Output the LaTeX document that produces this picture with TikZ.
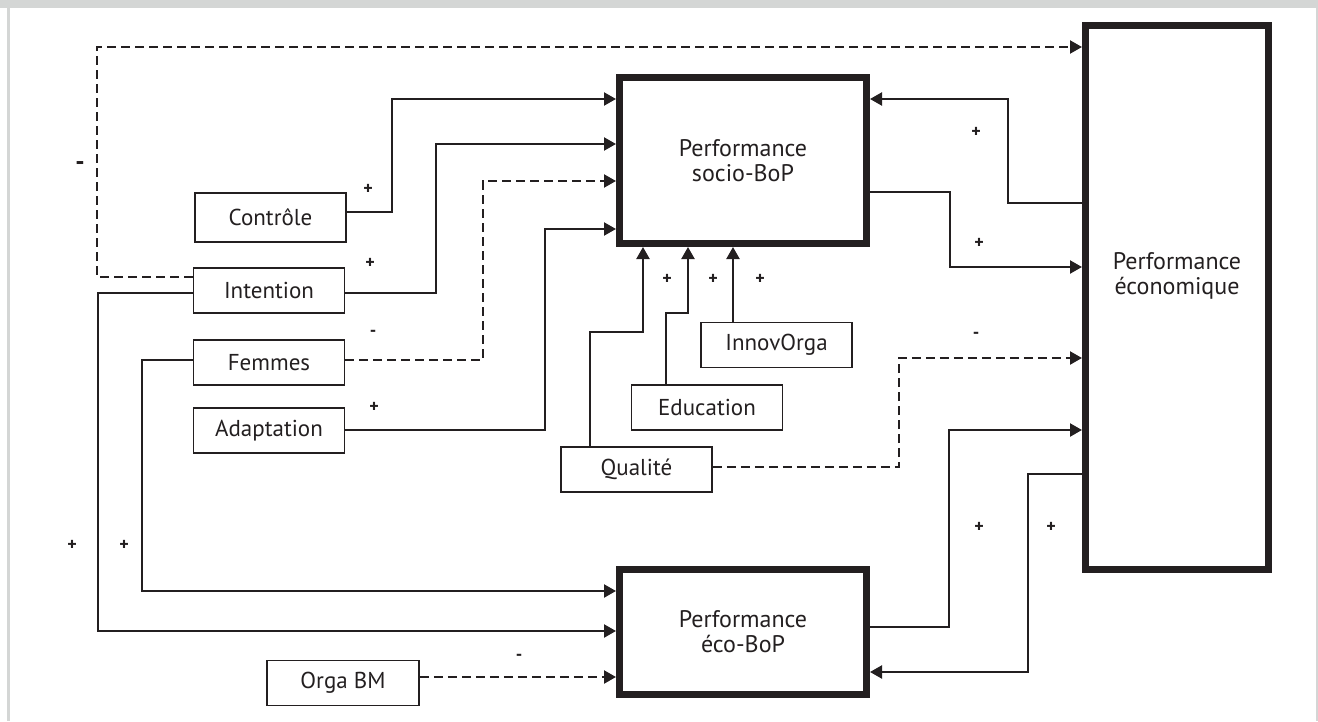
\documentclass[tikz,border=0pt]{standalone}
\usepackage{fontspec}
\setmainfont{PT Sans}
\usepackage{tikz}
\usetikzlibrary{arrows.meta,calc}

\definecolor{ink}{RGB}{35,31,32}
\definecolor{framegray}{RGB}{212,214,213}

\begin{document}
\begin{tikzpicture}[
    x=1pt, y=-1pt,
    smallbox/.style={rectangle, draw=ink, line width=1.7pt, minimum width=151pt, minimum height=45pt, inner sep=0pt, text=ink, font=\fontsize{23}{27}\selectfont},
    bigbox/.style={rectangle, draw=ink, line width=7pt, inner sep=0pt, align=center, text=ink, font=\fontsize{24}{25}\selectfont},
    link/.style={ink, line width=2.2pt, -{Triangle[length=12pt, width=13pt]}},
    dlink/.style={link, dash pattern=on 9pt off 5pt},
    sign/.style={text=ink, font=\fontsize{18}{18}\bfseries\selectfont}
]
    \useasboundingbox (0,0) rectangle (1318,721);
    % frame
    \fill[framegray] (0,0) rectangle (1318,8);
    \fill[framegray] (7,0) rectangle (10,721);
    \fill[framegray] (1316,0) rectangle (1318,721);

    % main blocks
    \node[bigbox, minimum width=247pt, minimum height=166pt] (socio) at (743,160.5) {Performance\\socio-BoP};
    \node[bigbox, minimum width=183pt, minimum height=544pt,
          label={[align=center, text=ink, font=\fontsize{24}{25}\selectfont, yshift=22pt]center:Performance\\économique}] (econ) at (1177,297.5) {};
    \node[bigbox, minimum width=247pt, minimum height=125pt] (eco) at (743,632) {Performance\\éco-BoP};

    % drivers
    \node[smallbox, minimum height=49pt] (ctrl) at (270.5,217.5) {Contrôle};
    \node[smallbox] (intent) at (269,290.5) {Intention};
    \node[smallbox] (femmes) at (269,362.5) {Femmes};
    \node[smallbox] (adapt) at (269,430.5) {Adaptation};
    \node[smallbox, minimum width=152pt] (orga) at (343,683) {Orga BM};
    \node[smallbox] (qual) at (636.5,469.5) {Qualité};
    \node[smallbox] (edu) at (707,407.5) {Education};
    \node[smallbox] (innov) at (776.5,345) {InnovOrga};

    % links to socio-BoP
    \draw[link] (ctrl.east |- 0,212) -| (392,99) -- (socio.west |- 0,99);
    \draw[link] (intent.east |- 0,293) -| (436,144) -- (socio.west |- 0,144);
    \draw[dlink] (femmes.east |- 0,360) -| (483,181) -- (socio.west |- 0,181);
    \draw[link] (adapt.east |- 0,430) -| (545,229) -- (socio.west |- 0,229);
    \draw[link] (qual.north -| 590,0) |- (643,332) -- (socio.south -| 643,0);
    \draw[link] (edu.north -| 666,0) |- (688,313) -- (socio.south -| 688,0);
    \draw[link] (innov.north -| 733,0) -- (socio.south -| 733,0);
    \draw[link] (econ.west |- 0,203) -| (1008,99) -- (socio.east |- 0,99);

    % links to economic performance
    \draw[dlink] (intent.west |- 0,277) -| (97,47) -- (econ.west |- 0,47);
    \draw[link] (socio.east |- 0,192) -| (950,267) -- (econ.west |- 0,267);
    \draw[dlink] (qual.east |- 0,467) -| (899,358) -- (econ.west |- 0,358);
    \draw[link] (eco.east |- 0,627) -| (949,430) -- (econ.west |- 0,430);

    % links to eco-BoP
    \draw[link] (econ.west |- 0,474) -| (1028,672) -- (eco.east |- 0,672);
    \draw[link] (intent.west |- 0,293) -| (98,631) -- (eco.west |- 0,631);
    \draw[link] (femmes.west |- 0,360) -| (142,591) -- (eco.west |- 0,591);
    \draw[dlink] (orga.east |- 0,677) -- (eco.west |- 0,677);

    % signs
    \node[sign, font=\fontsize{26}{26}\bfseries\selectfont] (s1) at (80,166) {-};
    \node[sign] (s2) at (368,189) {+};
    \node[sign] (s3) at (370,263) {+};
    \node[sign] (s4) at (373,333) {-};
    \node[sign] (s5) at (374,407) {+};
    \node[sign] (s6) at (667,279) {+};
    \node[sign] (s7) at (713,279) {+};
    \node[sign] (s8) at (760,279) {+};
    \node[sign] (s9) at (976,132) {+};
    \node[sign] (s10) at (979,243) {+};
    \node[sign] (s11) at (976,335) {-};
    \node[sign] (s12) at (979,527) {+};
    \node[sign] (s13) at (1051,527) {+};
    \node[sign] (s14) at (72,545) {+};
    \node[sign] (s15) at (124,545) {+};
    \node[sign] (s16) at (519,657) {-};
\end{tikzpicture}
\end{document}
